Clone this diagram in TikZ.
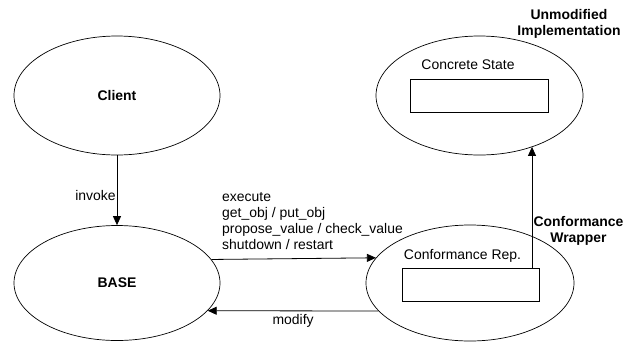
\documentclass[tikz,border=0pt]{standalone}
\usepackage{fontspec}
\setmainfont{Liberation Sans}
\usepackage{tikz}
\usetikzlibrary{shapes.geometric,arrows.meta}

\newcommand{\labelsize}{\fontsize{14}{16}\selectfont}

\tikzset{
    state/.style={ellipse, draw, line width=0.7bp, inner sep=0pt},
    statebox/.style={rectangle, draw, line width=0.8bp, inner sep=0pt},
    heading/.style={align=center, font=\labelsize\bfseries, inner sep=0pt},
    msg/.style={line width=0.8bp, -{Triangle[length=9bp,width=8bp]}}
}

\begin{document}
\begin{tikzpicture}[x=1bp, y=-1bp, font=\labelsize]
    \useasboundingbox (0,0) rectangle (624,342);

    \node[state, minimum width=206bp, minimum height=119bp, font=\labelsize\bfseries] (client) at (117,95.5) {Client};
    \node[state, minimum width=206bp, minimum height=115bp, font=\labelsize\bfseries] (base) at (117,283) {BASE};
    \node[state, minimum width=207bp, minimum height=119bp] (concrete) at (479.5,95.5) {};
    \node[state, minimum width=208bp, minimum height=116bp] (confrep) at (470,283) {};

    \node (concname) at (468,65) {Concrete State};
    \node[statebox, minimum width=138bp, minimum height=33bp] (concbox) at (479,95.5) {};

    \node (confname) at (462.5,256) {Conformance Rep.};
    \node[statebox, minimum width=137bp, minimum height=33bp] (confbox) at (470.5,284.5) {};

    \node[heading] (unmod) at (569,23.5) {Unmodified\\Implementation};
    \node[heading] (wrapname) at (578.5,230.5) {Conformance\\Wrapper};

    % base anchor of a multi-line node sits on its last line
    \node[anchor=base west, align=left, inner sep=0pt] (msgs) at (222,249.5)
        {execute\\get\_obj / put\_obj\\propose\_value / check\_value\\shutdown / restart};

    \draw[msg] (client) -- node[left, pos=0.58, inner sep=1bp] (invoke) {invoke} (base);
    \draw[msg] (base.14.4) -- (confrep.165.8);
    \draw[msg] (confrep.197.1) -- node[below, midway] (modify) {modify} (base.-17.3);

    \coordinate (wrapfoot) at ([xshift=61.5bp]confbox.north);
    \draw[msg] (wrapfoot) -- (wrapfoot |- concrete.-44.3);
\end{tikzpicture}
\end{document}
